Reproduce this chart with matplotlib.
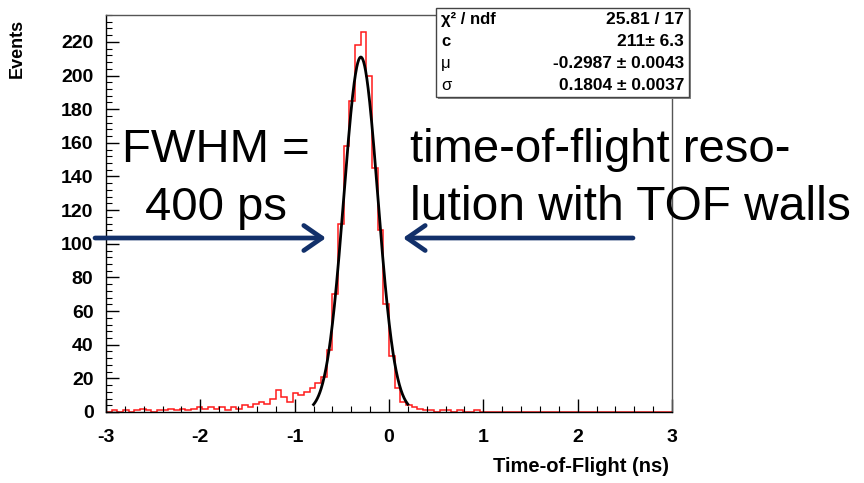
import numpy as np
import matplotlib
matplotlib.use("Agg")
import matplotlib.pyplot as plt
from matplotlib.patches import Rectangle
from matplotlib.ticker import MultipleLocator, FixedLocator, FixedFormatter

plt.rcParams['axes.unicode_minus'] = False
plt.rcParams['font.family'] = ['Liberation Sans', 'DejaVu Sans']

# Histogram: 100 bins of 0.06 ns between -3 and 3 ns
bin_edges = np.linspace(-3.0, 3.0, 101)
counts = [
    0, 1, 0, 1, 0, 1, 2, 1, 0, 1,
    1, 2, 1, 2, 1, 2, 3, 2, 3, 2,
    3, 1, 3, 2, 4, 3, 5, 6, 5, 8,
    13, 9, 6, 11, 10, 12, 14, 17, 21, 37,
    70, 112, 158, 185, 218, 226, 200, 145, 108, 64,
    33, 14, 6, 4, 3, 2, 1, 1, 0, 1,
    1, 0, 1, 0, 0, 1, 0, 0, 0, 0,
    0, 0, 0, 0, 0, 0, 0, 0, 0, 0,
    0, 0, 0, 0, 0, 0, 0, 0, 0, 0,
    0, 0, 0, 0, 0, 0, 0, 0, 0, 0,
]

# Gaussian fit result
fit_c = 211.0
fit_mu = -0.2987
fit_sigma = 0.1804
fit_range = (-0.80, 0.20)

stat_names = ["χ² / ndf", "c", "μ", "σ"]
stat_values = ["25.81 / 17", "211± 6.3", "-0.2987 ± 0.0043", "0.1804 ± 0.0037"]

x_ticks = [-3, -2, -1, 0, 1, 2, 3]
x_tick_labels = ["-3", "-2", "-1", "0", "1", "2", "3"]
y_ticks = list(range(0, 221, 20))

W, H = 864, 483
fig = plt.figure(figsize=(W / 100, H / 100), dpi=100)

def fx(px):
    return px / W

def fy(py):
    return 1 - py / H

ax_left, ax_right, ax_top, ax_bottom = 106, 672, 15, 412
ax = fig.add_axes([fx(ax_left), fy(ax_bottom), fx(ax_right) - fx(ax_left),
                   fy(ax_top) - fy(ax_bottom)])

ax.stairs(counts, bin_edges, color='#ff1a1a', lw=1.1, baseline=0)

xf = np.linspace(fit_range[0], fit_range[1], 300)
yf = fit_c * np.exp(-0.5 * ((xf - fit_mu) / fit_sigma) ** 2)
ax.plot(xf, yf, color='black', lw=2.0)

ax.set_xlim(-3, 3)
ax.set_ylim(0, 236)

ax.xaxis.set_major_locator(FixedLocator(x_ticks))
ax.xaxis.set_major_formatter(FixedFormatter(x_tick_labels))
ax.xaxis.set_minor_locator(MultipleLocator(0.2))
ax.yaxis.set_major_locator(FixedLocator(y_ticks))
ax.yaxis.set_minor_locator(MultipleLocator(4))

ax.tick_params(which='both', direction='in', top=False, right=False, color='black')
ax.tick_params(which='major', length=9.5, width=1.0)
ax.tick_params(which='minor', length=4.5, width=0.8)
ax.tick_params(axis='x', which='major', pad=12, labelsize=14)
ax.tick_params(axis='y', which='major', pad=9, labelsize=14)
for lab in ax.get_xticklabels() + ax.get_yticklabels():
    lab.set_fontweight('bold')
for sp in ax.spines.values():
    sp.set_linewidth(1.0)
ax.spines['top'].set_color('#555555')
ax.spines['right'].set_color('#555555')

fig.text(fx(17), fy(19), "Events", rotation=90, ha='center', va='top',
         fontsize=13, fontweight='bold')
fig.text(fx(669), fy(466), "Time-of-Flight (ns)", ha='right', va='center',
         fontsize=14.5, fontweight='bold')

# Fit statistics box
bx0, bx1, by0, by1 = 436, 689, 8, 97
fig.patches.append(Rectangle((fx(bx0 + 2), fy(by1 + 2)), fx(bx1) - fx(bx0),
                             fy(by0) - fy(by1), transform=fig.transFigure,
                             facecolor='#888888', edgecolor='none', zorder=5))
fig.patches.append(Rectangle((fx(bx0), fy(by1)), fx(bx1) - fx(bx0),
                             fy(by0) - fy(by1), transform=fig.transFigure,
                             facecolor='white', edgecolor='#444444', lw=1.0, zorder=6))
row_h = (by1 - by0) / 4
for i, (nm, val) in enumerate(zip(stat_names, stat_values)):
    yc = by0 + row_h * (i + 0.5)
    fig.text(fx(bx0 + 5), fy(yc), nm, ha='left', va='center', fontsize=12,
             fontweight='bold' if i < 2 else 'normal', zorder=7)
    fig.text(fx(bx1 - 5), fy(yc), val, ha='right', va='center', fontsize=12.5,
             fontweight='bold', zorder=7)

# Annotations
fig.text(fx(216), fy(162), "FWHM =", ha='center', va='baseline', fontsize=34)
fig.text(fx(216), fy(220), "400 ps", ha='center', va='baseline', fontsize=34)
fig.text(fx(410), fy(162), "time-of-flight reso-", ha='left', va='baseline', fontsize=34)
fig.text(fx(410), fy(220), "lution with TOF walls", ha='left', va='baseline', fontsize=34.5)

arrow_color = '#12306A'
arrow_props = dict(arrowstyle='->, head_length=0.65, head_width=0.45',
                   color=arrow_color, lw=3.4, mutation_scale=20,
                   shrinkA=0, shrinkB=0)
ax.annotate("", xy=(fx(326), fy(238)), xytext=(fx(95), fy(238)),
            xycoords='figure fraction', textcoords='figure fraction',
            arrowprops=arrow_props, annotation_clip=False)
ax.annotate("", xy=(fx(403), fy(238)), xytext=(fx(633), fy(238)),
            xycoords='figure fraction', textcoords='figure fraction',
            arrowprops=arrow_props, annotation_clip=False)

fig.savefig("out.png", dpi=100)
